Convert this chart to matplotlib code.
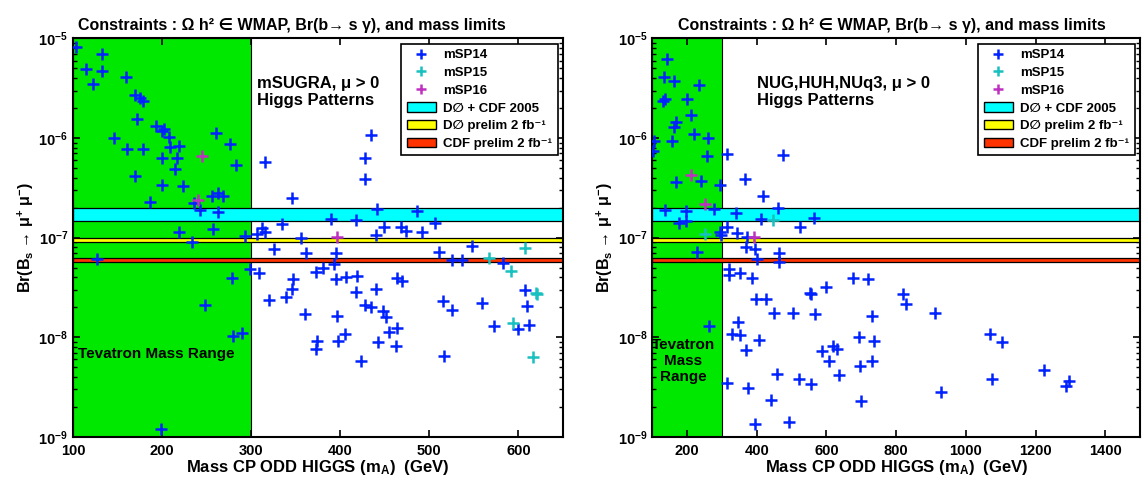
import matplotlib
matplotlib.use('Agg')
import matplotlib.pyplot as plt
from matplotlib.lines import Line2D
from matplotlib.patches import Patch

plt.rcParams['font.family'] = ['Liberation Sans', 'DejaVu Sans']
plt.rcParams['font.weight'] = 'bold'
plt.rcParams['axes.labelweight'] = 'bold'
plt.rcParams['axes.titleweight'] = 'bold'
plt.rcParams['mathtext.fontset'] = 'custom'
plt.rcParams['mathtext.rm'] = 'Liberation Sans:bold'
plt.rcParams['mathtext.it'] = 'Liberation Sans:italic:bold'
plt.rcParams['mathtext.bf'] = 'Liberation Sans:bold'

# ---- left panel : mSUGRA ----
sugra_msp14_mA = [103, 132, 115, 132, 122, 159, 170, 175, 178, 172, 193, 202, 200, 208, 146,
                  161, 179, 209, 219, 200, 217, 215, 261, 276, 283, 169, 200, 223, 186, 236,
                  256, 263, 268, 243, 263, 219, 257, 234, 293, 127, 306, 312, 316, 334, 326,
                  356, 362, 299, 309, 278, 347, 346, 248, 320, 339, 360, 279, 290, 199,
                  441, 486, 389, 418, 449, 468, 474, 440, 492, 506, 395, 393, 381, 373, 395,
                  406, 419, 418, 440, 464, 469, 428, 434, 448, 451, 396, 455, 464, 374, 373,
                  397, 405, 442, 462, 423, 511, 525, 537, 548, 583, 515, 525, 559, 573, 607,
                  609, 599, 612, 516, 434, 428, 428, 315, 346]
sugra_msp14_br = [8.26e-6, 6.93e-6, 4.9e-6, 4.71e-6, 3.49e-6, 4.1e-6, 2.7e-6, 2.54e-6, 2.37e-6,
                  1.54e-6, 1.32e-6, 1.23e-6, 1.17e-6, 1.03e-6, 9.93e-7, 7.7e-7, 7.82e-7, 8.07e-7,
                  8.3e-7, 6.26e-7, 6.35e-7, 4.85e-7, 1.13e-6, 8.78e-7, 5.36e-7, 4.15e-7, 3.35e-7,
                  3.3e-7, 2.3e-7, 2.21e-7, 2.64e-7, 2.83e-7, 2.64e-7, 1.88e-7, 1.79e-7, 1.15e-7,
                  1.22e-7, 8.97e-8, 1.04e-7, 6.1e-8, 1.08e-7, 1.24e-7, 1.15e-7, 1.37e-7, 7.64e-8,
                  9.84e-8, 7.05e-8, 4.84e-8, 4.37e-8, 3.9e-8, 3.84e-8, 3.02e-8, 2.1e-8, 2.37e-8,
                  2.52e-8, 1.7e-8, 1.03e-8, 1.09e-8, 1.19e-9,
                  1.94e-7, 1.86e-7, 1.54e-7, 1.5e-7, 1.27e-7, 1.29e-7, 1.16e-7, 1.06e-7, 1.15e-7,
                  1.41e-7, 6.96e-8, 5.43e-8, 4.91e-8, 4.54e-8, 3.84e-8, 3.99e-8, 4.11e-8, 2.86e-8,
                  3.02e-8, 3.93e-8, 3.66e-8, 2.1e-8, 2.0e-8, 1.83e-8, 1.6e-8, 1.64e-8, 1.13e-8,
                  1.23e-8, 9.22e-9, 7.6e-9, 9.22e-9, 1.07e-8, 8.87e-9, 8.14e-9, 5.76e-9, 7.11e-8,
                  5.96e-8, 5.96e-8, 8.28e-8, 5.51e-8, 2.32e-8, 1.88e-8, 2.19e-8, 1.3e-8, 2.97e-8,
                  2.07e-8, 1.2e-8, 1.32e-8, 6.5e-9, 1.07e-6, 6.35e-7, 3.85e-7, 5.71e-7, 2.51e-7]
sugra_msp15_mA = [607, 567, 592, 620, 621, 594, 616]
sugra_msp15_br = [7.82e-8, 6.19e-8, 4.66e-8, 2.8e-8, 2.7e-8, 1.38e-8, 6.28e-9]
sugra_msp16_mA = [245, 240, 396]
sugra_msp16_br = [6.6e-7, 2.39e-7, 1.01e-7]

# ---- right panel : NUG, HUH, NUq3 ----
nug_msp14_mA = [143, 133, 162, 235, 131, 136, 200, 167, 162, 210, 219, 157, 260, 106, 103,
                257, 313, 474, 367, 169, 240, 295, 417, 136, 198, 276, 340, 462, 412, 563,
                178, 198, 523, 313, 293, 298, 343, 372, 227, 370, 396, 401, 465, 465, 319,
                319, 351, 386, 398, 427, 450, 505, 568, 553, 556, 599, 677, 720, 730, 692,
                735, 620, 630, 587, 606, 697, 732, 637, 346, 329, 353, 370, 405, 262, 458,
                520, 556, 315, 374, 442, 699, 493, 394, 821, 827, 911, 1069, 1104, 1074, 928,
                1224, 1287, 1295]
nug_msp14_br = [6.18e-6, 4.07e-6, 3.74e-6, 3.4e-6, 2.36e-6, 2.45e-6, 2.45e-6, 1.44e-6, 1.3e-6,
                1.7e-6, 1.1e-6, 9.33e-7, 9.93e-7, 9.33e-7, 7.46e-7, 6.6e-7, 6.86e-7, 6.76e-7,
                3.88e-7, 3.59e-7, 3.7e-7, 3.35e-7, 2.64e-7, 1.9e-7, 1.85e-7, 1.94e-7, 1.75e-7,
                1.97e-7, 1.54e-7, 1.56e-7, 1.41e-7, 1.47e-7, 1.27e-7, 1.27e-7, 1.15e-7, 1.06e-7,
                1.1e-7, 1.02e-7, 7.2e-8, 8.0e-8, 7.6e-8, 6.05e-8, 7.05e-8, 5.73e-8, 4.8e-8,
                4.2e-8, 4.37e-8, 3.95e-8, 2.4e-8, 2.4e-8, 1.74e-8, 1.74e-8, 1.71e-8, 2.79e-8,
                2.69e-8, 3.21e-8, 3.9e-8, 3.84e-8, 1.64e-8, 9.95e-9, 9.14e-9, 8.2e-9, 7.55e-9,
                7.26e-9, 5.79e-9, 5.13e-9, 5.75e-9, 4.17e-9, 1.41e-8, 1.08e-8, 1.04e-8, 7.43e-9,
                9.35e-9, 1.3e-8, 4.24e-9, 3.8e-9, 3.38e-9, 3.44e-9, 3.1e-9, 2.34e-9, 2.29e-9,
                1.42e-9, 1.34e-9, 2.71e-8, 2.15e-8, 1.74e-8, 1.07e-8, 8.87e-9, 3.8e-9, 2.79e-9,
                4.68e-9, 3.23e-9, 3.66e-9]
nug_msp15_mA = [446, 250]
nug_msp15_br = [1.5e-7, 1.08e-7]
nug_msp16_mA = [210, 250, 391]
nug_msp16_br = [4.23e-7, 2.16e-7, 1.01e-7]

# experimental limits (bands) and Tevatron mass range
band_labels = ['D\u2205 + CDF 2005', 'D\u2205 prelim 2 fb\u207b\u00b9', 'CDF prelim 2 fb\u207b\u00b9']
band_lo = [1.48e-7, 9.1e-8, 5.65e-8]
band_hi = [1.98e-7, 1.0e-7, 6.2e-8]
band_colors = ['#00ffff', '#ffff00', '#ff3300']
tevatron_mA = [100, 300]

title = 'Constraints : \u03a9 h\u00b2 \u2208 WMAP, Br(b\u2192 s \u03b3), and mass limits'


def draw_panel(ax, b_x, b_y, c_x, c_y, m_x, m_y, xmax, xticks, title_x, note, note_x,
               tev_text, tev_xy, tev_ha):
    ax.axvspan(tevatron_mA[0], tevatron_mA[1], facecolor='#00e800', edgecolor='k', lw=0.8, zorder=1)
    patches = []
    for lo, hi, c, lab in zip(band_lo, band_hi, band_colors, band_labels):
        ax.axhspan(lo, hi, facecolor=c, edgecolor='k', lw=0.9, zorder=2)
        patches.append(Patch(facecolor=c, edgecolor='k', label=lab))
    ax.plot(b_x, b_y, '+', color='#0022ff', ms=8, mew=1.8, zorder=3)
    ax.plot(c_x, c_y, '+', color='#18c0c0', ms=8, mew=1.8, zorder=3)
    ax.plot(m_x, m_y, '+', color='#c030c0', ms=8, mew=1.8, zorder=3)
    ax.set_yscale('log')
    ax.set_xlim(100, xmax)
    ax.set_ylim(1e-9, 1e-5)
    ax.set_xticks(xticks)
    ax.set_xticklabels([str(t) for t in xticks])
    ax.set_yticks([1e-9, 1e-8, 1e-7, 1e-6, 1e-5])
    ax.set_yticklabels(['10$^{-%d}$' % k for k in [9, 8, 7, 6, 5]])
    ax.tick_params(which='both', direction='in', top=True, right=True, labelsize=10.5)
    ax.tick_params(which='major', length=5, width=1.2)
    ax.tick_params(which='minor', length=3, width=1.0)
    ax.tick_params(axis='x', pad=5)
    for s in ax.spines.values():
        s.set_linewidth(1.5)
    ax.set_title(title, fontsize=11.5, pad=6, x=title_x)
    ax.set_xlabel('Mass CP ODD HIGGS (m$_{\\mathrm{A}}$)  (GeV)', fontsize=12, labelpad=0)
    ax.set_ylabel('Br(B$_{\\mathrm{s}}$ \u2192 \u03bc$^{+}$ \u03bc$^{-}$)', fontsize=11.5, labelpad=2)
    ax.text(note_x, 0.905, note, transform=ax.transAxes, fontsize=12, va='top', ha='left',
            linespacing=1.1)
    ax.text(tev_xy[0], tev_xy[1], tev_text, transform=ax.transAxes, fontsize=11,
            va='center', ha=tev_ha, linespacing=1.15, zorder=4)
    handles = [Line2D([], [], ls='none', marker='+', color='#0022ff', ms=7, mew=1.8),
               Line2D([], [], ls='none', marker='+', color='#18c0c0', ms=7, mew=1.8),
               Line2D([], [], ls='none', marker='+', color='#c030c0', ms=7, mew=1.8)] + patches
    labels = ['mSP14', 'mSP15', 'mSP16'] + band_labels
    leg = ax.legend(handles, labels, loc='upper right', fontsize=9.5, fancybox=False,
                    edgecolor='k', framealpha=1, borderaxespad=0.4, labelspacing=0.42,
                    handlelength=2.2, handletextpad=0.6, borderpad=0.4)
    leg.get_frame().set_linewidth(1.2)


fig = plt.figure(figsize=(11.43, 4.8), dpi=100)
ax1 = fig.add_axes([0.0639, 0.0902, 0.4287, 0.8296])
ax2 = fig.add_axes([0.5707, 0.0902, 0.4267, 0.8296])

draw_panel(ax1, sugra_msp14_mA, sugra_msp14_br, sugra_msp15_mA, sugra_msp15_br,
           sugra_msp16_mA, sugra_msp16_br, 650, [100, 200, 300, 400, 500, 600], 0.447,
           'mSUGRA, \u03bc > 0\nHiggs Patterns', 0.375,
           'Tevatron Mass Range', (0.01, 0.208), 'left')
draw_panel(ax2, nug_msp14_mA, nug_msp14_br, nug_msp15_mA, nug_msp15_br,
           nug_msp16_mA, nug_msp16_br, 1500, [200, 400, 600, 800, 1000, 1200, 1400], 0.492,
           'NUG,HUH,NUq3, \u03bc > 0\nHiggs Patterns', 0.214,
           'Tevatron\nMass\nRange', (0.063, 0.19), 'center')

fig.savefig('out.png', dpi=100)
